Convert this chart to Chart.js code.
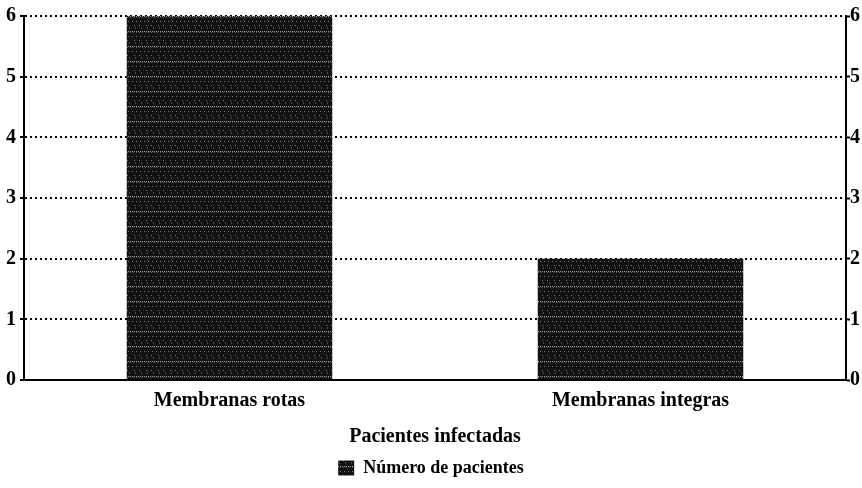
<!DOCTYPE html>
<html>
<head>
<meta charset="utf-8">
<script src="https://cdn.jsdelivr.net/npm/chart.js@4/dist/chart.umd.min.js"></script>
<style>
  html, body { margin: 0; padding: 0; background: #fff; }
  #wrap { width: 862px; height: 488px; }
</style>
</head>
<body>
<div id="wrap"><canvas id="c" width="862" height="488"></canvas></div>
<script>
const categories = ["Membranas rotas", "Membranas integras"];
const seriesName = "Número de pacientes";
const seriesValues = [6, 2];
const xAxisTitle = "Pacientes infectadas";
const yTicks = [0, 1, 2, 3, 4, 5, 6];

// textured dark fill resembling the scanned bars
function makePattern() {
  const p = document.createElement('canvas');
  p.width = 12; p.height = 15;
  const g = p.getContext('2d');
  g.fillStyle = '#121212';
  g.fillRect(0, 0, 12, 15);
  g.fillStyle = '#9a9a9a';
  for (let x = 0; x < 12; x += 2) g.fillRect(x, 1, 1, 1);
  g.fillStyle = '#606060';
  for (let x = 1; x < 12; x += 3) g.fillRect(x, 2, 1, 1);
  g.fillStyle = '#767676';
  for (let x = 0; x < 12; x += 4) g.fillRect(x, 6, 1, 1);
  for (let x = 2; x < 12; x += 5) g.fillRect(x, 10, 1, 1);
  g.fillStyle = '#4a4a4a';
  for (let x = 3; x < 12; x += 6) g.fillRect(x, 12, 1, 2);
  return g.createPattern(p, 'repeat');
}
const barFill = makePattern();

const serif = "'Liberation Serif', 'Times New Roman', serif";

new Chart(document.getElementById('c'), {
  type: 'bar',
  data: {
    labels: categories,
    datasets: [{
      label: seriesName,
      data: seriesValues,
      backgroundColor: barFill,
      borderWidth: 0,
      categoryPercentage: 1.0,
      barPercentage: 0.5,
      yAxisID: 'y'
    }]
  },
  options: {
    responsive: false,
    animation: false,
    layout: { padding: { top: 12, left: 2, right: 2, bottom: 1 } },
    plugins: {
      tooltip: { enabled: false },
      legend: {
        position: 'bottom',
        labels: {
          color: '#000',
          font: { family: serif, size: 18, weight: 'bold' },
          boxWidth: 16,
          boxHeight: 15,
          padding: 8
        }
      }
    },
    scales: {
      x: {
        grid: { display: false },
        border: { display: true, color: '#000', width: 2 },
        ticks: {
          color: '#000',
          font: { family: serif, size: 20, weight: 'bold' },
          padding: 1
        },
        title: {
          display: true,
          text: xAxisTitle,
          color: '#000',
          font: { family: serif, size: 20, weight: 'bold' },
          padding: { top: 11, bottom: 2 }
        }
      },
      y: {
        position: 'left',
        min: 0, max: 6,
        afterBuildTicks: (s) => { s.ticks = yTicks.map(v => ({ value: v })); },
        grid: {
          color: '#000',
          lineWidth: 2,
          drawTicks: true,
          tickLength: 4,
          tickColor: '#000',
          tickWidth: 2,
          tickBorderDash: []
        },
        border: { display: true, color: '#000', width: 2, dash: [2, 3] },
        ticks: {
          color: '#000',
          font: { family: serif, size: 20, weight: 'bold' },
          padding: 4
        }
      },
      y2: {
        position: 'right',
        min: 0, max: 6,
        afterBuildTicks: (s) => { s.ticks = yTicks.map(v => ({ value: v })); },
        grid: {
          drawOnChartArea: false,
          drawTicks: true,
          tickLength: 4,
          tickColor: '#000',
          tickWidth: 2
        },
        border: { display: true, color: '#000', width: 2 },
        ticks: {
          color: '#000',
          font: { family: serif, size: 20, weight: 'bold' },
          padding: 0
        }
      }
    }
  }
});
</script>
</body>
</html>
